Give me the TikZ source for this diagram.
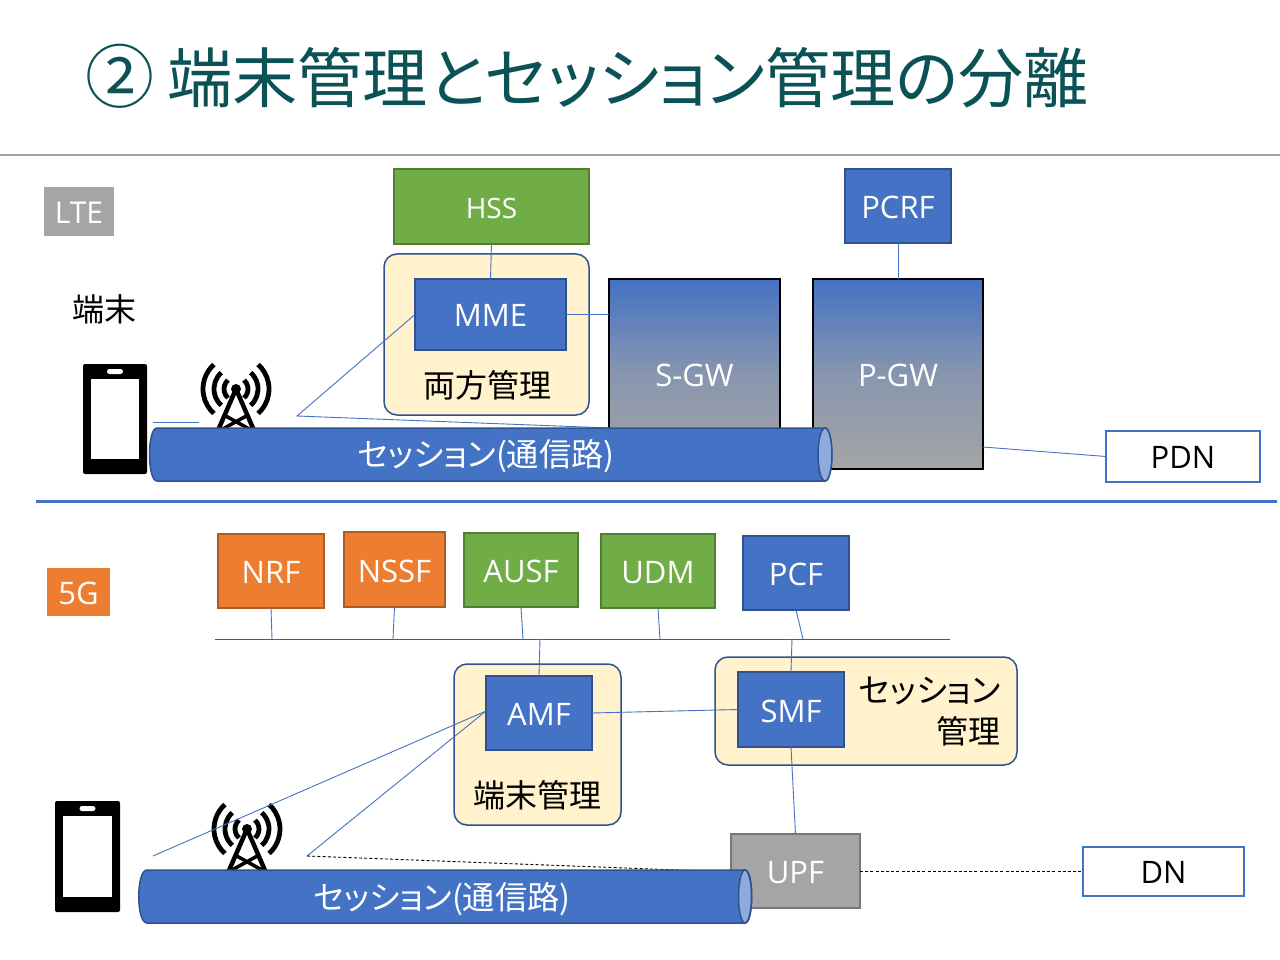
\documentclass[tikz,border=0pt]{standalone}
\usepackage{fontspec}
\setmainfont{Open Sans}
\newfontfamily\cjk[RawFeature={+palt}]{Noto Sans CJK JP}
\usetikzlibrary{calc}
\definecolor{bl}{HTML}{4472C4}
\definecolor{bld}{HTML}{2F528F}
\definecolor{gr}{HTML}{70AD47}
\definecolor{grd}{HTML}{507E32}
\definecolor{org}{HTML}{ED7D31}
\definecolor{orgd}{HTML}{AE5A21}
\definecolor{gy}{HTML}{A5A5A5}
\definecolor{gyd}{HTML}{787878}
\definecolor{ye}{HTML}{FFF2CC}
\definecolor{ttl}{HTML}{0B5257}
\definecolor{el}{HTML}{8FAADC}
\newcommand{\fs}[1]{\fontsize{#1}{#1}\selectfont}
\newcommand{\tx}[1]{\raisebox{-1.4pt}[\height][0pt]{#1}}
\tikzset{
  box/.style={anchor=north west,inner sep=0pt,outer sep=0pt,line width=1.3pt,text=white,font=\fs{31}},
  bluebox/.style={box,draw=bld,fill=bl},
  greenbox/.style={box,draw=grd,fill=gr},
  orangebox/.style={box,draw=orgd,fill=org},
  graybox/.style={box,draw=gyd,fill=gy},
  yellowbox/.style={box,draw=bld,fill=ye,rounded corners=13pt,line width=1.5pt},
  gwbox/.style={box,draw=black,line width=2pt,top color=bl,bottom color=gy,middle color=bl!30!gy},
  outbox/.style={box,draw=bl,fill=white,text=black},
  badge/.style={box,draw=none},
  wire/.style={draw=bl,line width=0.9pt},
  dotwire/.style={draw=black,line width=0.9pt,dash pattern=on 3pt off 2.2pt},
  label/.style={inner sep=0pt,text=black,font=\fs{32}\cjk},
  pipelabel/.style={inner sep=0pt,text=white,font=\fs{32.3}\cjk},
  pipe/.style={fill=bl,draw=bld,line width=1.5pt},
  pipeend/.style={fill=el,draw=bld,line width=1.5pt},
}
\newcommand{\phone}[6]{% x0 x1 y0 y1 sx0 sx1
  \fill[black,rounded corners=2pt] (#1,#3) rectangle (#2,#4);
  \fill[white] (#5,#3+15) rectangle (#6,#4-15);
  \fill[white,rounded corners=2.5pt] ({(#1+#2)/2-8},#3+5) rectangle ({(#1+#2)/2+8},#3+10);
}
\newcommand{\antenna}[2]{%
  \begin{scope}[shift={(#1,#2)},line width=4.8pt,draw=black]
    \foreach \r in {12,22,33}{
      \draw (-48:\r pt) arc[start angle=-48,end angle=48,radius=\r pt];
      \draw (132:\r pt) arc[start angle=132,end angle=228,radius=\r pt];
    }
    \fill[black] (0,0) circle[radius=5pt];
    \draw[line width=4.5pt] (0,0) -- (-20,46) (0,0) -- (20,46);
    \draw[line width=3.5pt] (-12,26) -- (15,41) (12,26) -- (-15,41);
  \end{scope}
}
\begin{document}
\begin{tikzpicture}[x=1pt,y=-1pt]
\useasboundingbox (0,0) rectangle (1280,960);
\fill[white] (0,0) rectangle (1280,960);
% title
\node[anchor=west,inner sep=0pt,text=ttl,font=\fs{65.2}\cjk] (title) at (85,76) {{\fs{69}②}\hspace{13pt}端末管理とセッション管理の分離};
\coordinate (ruleL) at (0,155); \coordinate (ruleR) at (1280,155);
\draw[draw=gy,line width=1.3pt] (ruleL) -- (ruleR);
\coordinate (divL) at (36,501); \coordinate (divR) at (1277,501);
\draw[draw=bl,line width=3pt] (divL) -- (divR);
% LTE
\node[badge,fill=gy,minimum width=70pt,minimum height=49pt,font=\fs{30}] (lte) at (44,187) {\tx{LTE}};
\node[label] (term) at (104,309) {端末};
\node[greenbox,minimum width=195pt,minimum height=75pt] (hss) at (394,169) {\fs{28}\tx{HSS}};
\node[bluebox,minimum width=106pt,minimum height=74pt] (pcrf) at (845,169) {\tx{PCRF}};
\node[yellowbox,minimum width=205pt,minimum height=161pt] (lteyellow) at (384,254) {};
\node[bluebox,minimum width=151pt,minimum height=71pt] (mme) at (415,279) {\tx{MME}};
\node[label] (both) at (487,385) {両方管理};
\node[gwbox,minimum width=171pt,minimum height=190pt] (sgw) at (609,279) {\tx{S-GW}};
\node[gwbox,minimum width=170pt,minimum height=190pt] (pgw) at (813,279) {\tx{P-GW}};
\node[outbox,minimum width=154pt,minimum height=51pt] (pdn) at (1106,431) {\tx{PDN}};
\coordinate (ltejoin) at (297,416);
\coordinate (ltejoinEnd) at (610,428);
\coordinate (ltephoneA) at (153,422);
\coordinate (ltephoneB) at (199,422);
\draw[wire] (hss.south) -- (mme.north);
\draw[wire] (mme.east) -- (mme.east -| sgw.west);
\draw[wire] (pcrf.south) -- (pcrf.south |- pgw.north);
\draw[wire] ($(pgw.south east)+(0,-22)$) -- (pdn.west);
\draw[wire] (mme.west) -- (ltejoin) -- (ltejoinEnd);
\draw[wire] (ltephoneA) -- (ltephoneB);
\phone{83}{147}{364}{474}{91}{139}
\antenna{236}{389}
\draw[pipe] (157,428) -- (825,428) .. controls (834,428) and (834,481) .. (825,481) -- (157,481) .. controls (147,481) and (147,428) .. (157,428) -- cycle;
\draw[pipeend] (825,454.5) ellipse[x radius=7pt,y radius=26.5pt];
\node[pipelabel] (ltepipe) at (486,456) {セッション(通信路)};
% 5G
\node[badge,fill=org,minimum width=63pt,minimum height=48pt] (fiveg) at (47,568) {\tx{5G}};
\node[orangebox,minimum width=106pt,minimum height=74pt] (nrf) at (218,534) {\tx{NRF}};
\node[orangebox,minimum width=101pt,minimum height=75pt] (nssf) at (344,532) {\tx{NSSF}};
\node[greenbox,minimum width=114pt,minimum height=74pt] (ausf) at (464,533) {\tx{AUSF}};
\node[greenbox,minimum width=114pt,minimum height=74pt] (udm) at (601,534) {\tx{UDM}};
\node[bluebox,minimum width=106pt,minimum height=74pt] (pcf) at (743,536) {\tx{PCF}};
\coordinate (busL) at (215,639); \coordinate (busR) at (950,639);
\draw[draw=bld!80!gray,line width=0.9pt] (busL) -- (busR);
\coordinate (busAmf) at (540,639); \coordinate (busSmf) at (792,639);
\draw[wire] (nrf.south) -- (272,639);
\draw[wire] (nssf.south) -- (393,639);
\draw[wire] (ausf.south) -- (523,639);
\draw[wire] (udm.south) -- (660,639);
\draw[wire] (pcf.south) -- (803,639);
\node[yellowbox,minimum width=167pt,minimum height=161pt] (amfyellow) at (454,664) {};
\node[yellowbox,minimum width=302pt,minimum height=108pt] (smfyellow) at (715,657) {};
\node[bluebox,minimum width=106pt,minimum height=74pt] (amf) at (486,676) {\tx{AMF}};
\node[bluebox,minimum width=106pt,minimum height=75pt] (smf) at (738,672) {\tx{SMF}};
\node[graybox,minimum width=129pt,minimum height=74pt] (upf) at (731,834) {\tx{UPF}};
\node[outbox,minimum width=161pt,minimum height=49pt] (dn) at (1083,847) {\tx{DN}};
\node[label,anchor=east,font=\fs{33}\cjk] (sess1) at (1001,691) {セッション};
\node[label,anchor=east] (sess2) at (1001,731) {管理};
\node[label] (termmg) at (537,795) {端末管理};
\coordinate (gphone) at (153,856);
\coordinate (gjoin) at (307,856);
\draw[wire] (busAmf) -- (amf.north);
\draw[wire] (busSmf) -- (smf.north);
\draw[wire] (amf.east) -- (smf.west);
\draw[wire] (smf.south) -- (upf.north);
\phone{55}{120}{801}{912}{63}{112}
\antenna{247}{829}
\draw[wire] ($(amf.west)+(0,-2)$) -- (gphone);
\draw[wire] ($(amf.west)+(0,-2)$) -- (gjoin);
\draw[dotwire] (gjoin) -- (upf.north west |- 0,872);
\draw[dotwire] (upf.east) -- (dn.west |- upf.east);
\draw[pipe] (147,870) -- (745,870) .. controls (754,870) and (754,923) .. (745,923) -- (147,923) .. controls (136,923) and (136,870) .. (147,870) -- cycle;
\draw[pipeend] (745,896.5) ellipse[x radius=6.5pt,y radius=26.5pt];
\node[pipelabel] (gpipe) at (442,899) {セッション(通信路)};
\end{tikzpicture}
\end{document}
